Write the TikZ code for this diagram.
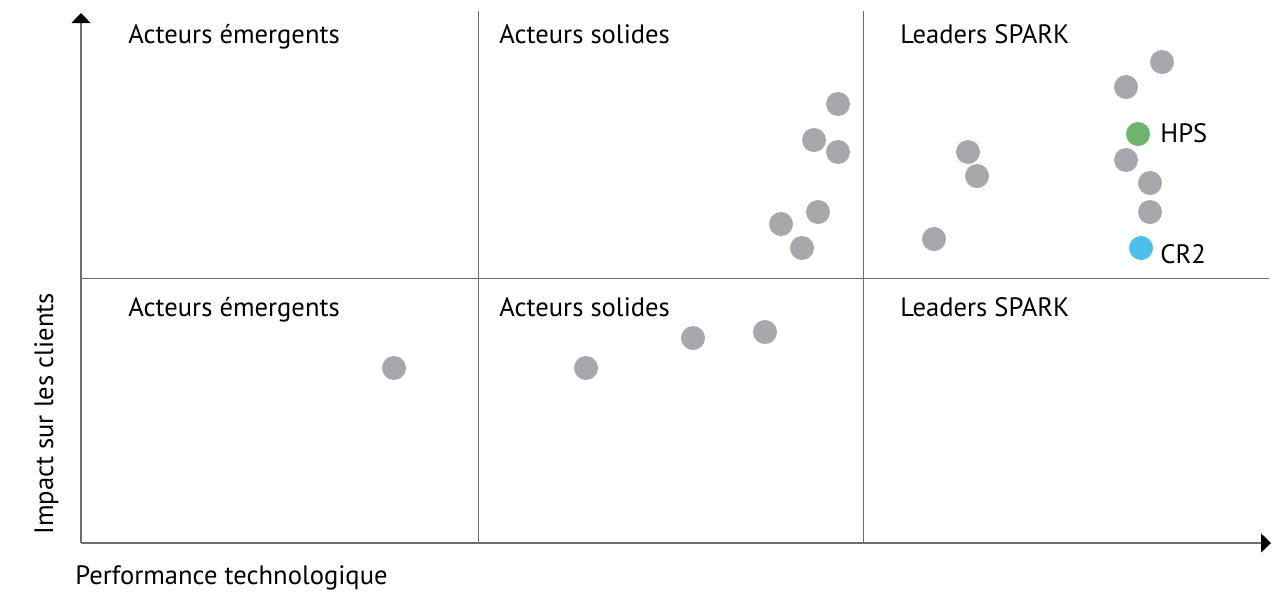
\documentclass[tikz,border=0pt]{standalone}
\usepackage{fontspec}
\setmainfont{PT Sans}
\usepackage{tikz}
\usetikzlibrary{arrows.meta}
\usetikzlibrary{positioning}

\definecolor{dotgray}{RGB}{167,168,171}
\definecolor{hpsgreen}{RGB}{109,180,108}
\definecolor{crblue}{RGB}{76,190,234}
\definecolor{linegray}{RGB}{110,110,110}

\begin{document}
\begin{tikzpicture}
		[
		x=0.5pt, y=-0.5pt,
		font=\fontsize{13.3}{16}\selectfont,
		axis/.style={draw=linegray,line width=0.75pt,-{Triangle[length=5pt,width=9.5pt,color=black,fill=black]}},
		divider/.style={draw=linegray,line width=0.5pt}
		]
		
		% Dot styles: grey, green and blue
		\tikzstyle{dot}=[circle,inner sep=0,minimum size=12pt,fill=dotgray];
		\tikzstyle{hps dot}=[dot,fill=hpsgreen];
		\tikzstyle{cr dot}=[dot,fill=crblue];
		\tikzstyle{quadrant}=[anchor=base west,inner sep=0];
		
		\useasboundingbox (0,0) rectangle (1278,596);
		
		% Axes and grid corners
		\coordinate (O) at (81,543);
		\coordinate (ytop) at (81,13);
		\coordinate (xend) at (1271,543);
		\coordinate (mleft) at (81,278);
		\coordinate (mright) at (1269,278);
		\coordinate (v1top) at (478,11);
		\coordinate (v1bot) at (478,543);
		\coordinate (v2top) at (863,11);
		\coordinate (v2bot) at (863,543);
		
		% Dividers
		\draw[divider](mleft)--(mright);
		\draw[divider](v1top)--(v1bot);
		\draw[divider](v2top)--(v2bot);
		
		% The axes
		\draw[axis](O)--(ytop);
		\draw[axis](O)--(xend);
		
		% Quadrant names
		\node(q11)[quadrant]at(128,43){Acteurs émergents};
		\node(q12)[quadrant]at(499,43){Acteurs solides};
		\node(q13)[quadrant]at(900,43){Leaders SPARK};
		\node(q21)[quadrant]at(128,316){Acteurs émergents};
		\node(q22)[quadrant]at(499,316){Acteurs solides};
		\node(q23)[quadrant]at(900,316){Leaders SPARK};
		
		% Axis labels
		\node(xlabel)[quadrant]at(75,584){Performance technologique};
		\node(ylabel)[quadrant,rotate=90]at(53,535){Impact sur les clients};
		
		% Players, upper row
		\foreach \i/\px/\py in {1/838/104, 2/814/140, 3/838/152, 4/818/212, 5/781/224, 6/802/248,
			7/968/152, 8/977/176, 9/934/239,
			10/1162/62, 11/1126/87, 12/1126/160, 13/1150/183, 14/1150/212}
			\node(d\i)[dot]at(\px,\py){};
		
		% Players, lower row
		\foreach \i/\px/\py in {15/394/368, 16/586/368, 17/693/338, 18/765/332}
			\node(d\i)[dot]at(\px,\py){};
		
		% Named players
		\node(hps)[hps dot]at(1138,134){};
		\node(cr2)[cr dot]at(1141,248){};
		\node(hpslabel)[quadrant]at(1160,142){HPS};
		\node(cr2label)[quadrant]at(1160,263){CR2};
		\end{tikzpicture}
\end{document}
